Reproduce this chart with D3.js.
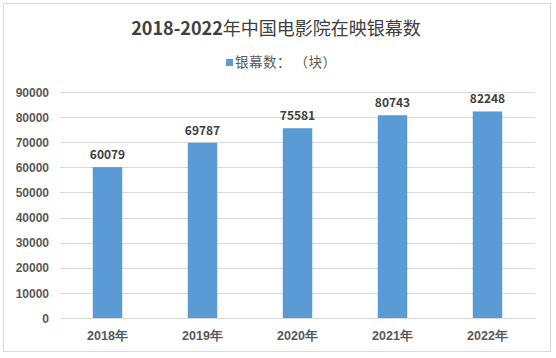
<!DOCTYPE html>
<html><head><meta charset="utf-8">
<script src="https://cdn.jsdelivr.net/npm/d3@7"></script>
<style>body{margin:0;background:#fff;}svg{display:block;font-family:"Noto Sans CJK SC","Noto Sans",sans-serif;}</style>
</head><body>
<script>
const categories = ["2018年","2019年","2020年","2021年","2022年"];
const values = [60079, 69787, 75581, 80743, 82248];
const yTicks = [0,10000,20000,30000,40000,50000,60000,70000,80000,90000];
const titleYears = "2018-2022";
const titleRest = "年中国电影院在映银幕数";
const seriesName = "银幕数： （块）";

const W = 556, H = 358;
const svg = d3.select("body").append("svg").attr("width", W).attr("height", H);
svg.append("rect").attr("x",3.5).attr("y",3.5).attr("width",547).attr("height",348)
  .attr("fill","#fff").attr("stroke","#d9d9d9");

const x = d3.scaleBand().domain(categories).range([60,535]).paddingInner(0.69).paddingOuter(0.345);
const y = d3.scaleLinear().domain([0,90000]).range([318,92]);

svg.append("g").selectAll("line").data(yTicks).join("line")
  .attr("x1",60).attr("x2",535).attr("y1",d=>Math.round(y(d))+0.5).attr("y2",d=>Math.round(y(d))+0.5)
  .attr("stroke","#d9d9d9").attr("stroke-width",1);

const yAxis = d3.axisLeft(y).tickValues(yTicks).tickSize(0).tickPadding(0).tickFormat(d=>String(d));
const ga = svg.append("g").attr("transform","translate(49,0)").call(yAxis);
ga.select(".domain").remove();
ga.selectAll("text").attr("fill","#595959").attr("font-size",12).attr("font-weight","bold").attr("dy","0.35em");

svg.append("g").selectAll("rect").data(values).join("rect")
  .attr("x",(d,i)=>x(categories[i])).attr("width",x.bandwidth())
  .attr("y",d=>y(d)).attr("height",d=>y(0)-y(d)).attr("fill","#5b9bd5");

svg.append("g").selectAll("text").data(values).join("text")
  .attr("x",(d,i)=>x(categories[i])+x.bandwidth()/2).attr("y",d=>y(d)-8)
  .attr("text-anchor","middle").attr("font-size",12).attr("font-weight","bold").attr("fill","#404040")
  .text(d=>d);

const xAxis = d3.axisBottom(x).tickSize(0).tickPadding(0);
const gx = svg.append("g").attr("transform","translate(0,318)").call(xAxis);
gx.select(".domain").attr("stroke","#d9d9d9");
gx.selectAll("text").attr("fill","#595959").attr("font-size",12.5).attr("font-weight","bold").attr("dy","1.0em").attr("y",9);

const t = svg.append("text").attr("x",276).attr("y",35).attr("text-anchor","middle")
  .attr("font-size",18).attr("fill","#404040");
t.append("tspan").attr("font-weight","bold").text(titleYears);
t.append("tspan").attr("font-weight","normal").text(titleRest);

svg.append("rect").attr("x",226).attr("y",59).attr("width",7).attr("height",7).attr("fill","#5b9bd5");
svg.append("text").attr("x",235).attr("y",67).attr("font-size",13.5).attr("letter-spacing",0.5).attr("fill","#595959").text(seriesName);
</script>
</body></html>
